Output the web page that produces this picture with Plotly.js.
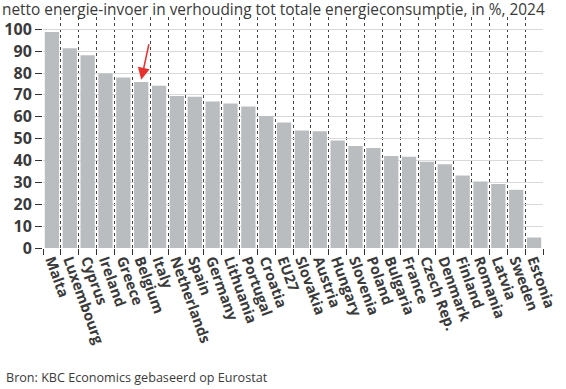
<!DOCTYPE html>
<html><head><meta charset="utf-8">
<script src="https://cdn.plot.ly/plotly-3.0.1.min.js"></script>
<style>body{margin:0;background:#fff}#c{width:566px;height:389px}</style>
</head><body><div id="c"></div>
<script>
const countries = ["Malta","Luxembourg","Cyprus","Ireland","Greece","Belgium","Italy","Netherlands","Spain","Germany","Lithuania","Portugal","Croatia","EU27","Slovakia","Austria","Hungary","Slovenia","Poland","Bulgaria","France","Czech Rep.","Denmark","Finland","Romania","Latvia","Sweden","Estonia"];
const importShare = [98.8,91.3,88.1,79.8,78.0,75.9,74.2,69.5,69.1,67.0,66.1,64.7,60.3,57.4,53.7,53.4,49.2,46.6,45.7,42.1,41.7,39.4,38.3,33.1,30.4,29.3,26.6,4.8];
const yTicks = [0,10,20,30,40,50,60,70,80,90,100];
const highlight = "Belgium";

const txt = '#3a3a3a';
const font = 'Open Sans, sans-serif';
Plotly.newPlot('c', [{
  type: 'bar', x: countries, y: importShare,
  marker: {color: '#babdbf'}, hoverinfo: 'skip'
}], {
  width: 566, height: 389,
  margin: {l: 43, r: 23, t: 17, b: 141},
  paper_bgcolor: '#fff', plot_bgcolor: '#fff',
  bargap: 0.2, showlegend: false,
  font: {family: font, color: txt},
  xaxis: {
    type: 'category', tickson: 'boundaries', tickangle: 70,
    tickmode: 'linear', tick0: 0, dtick: 1,
    ticks: 'outside', ticklen: 6, tickcolor: '#333', tickwidth: 1,
    showgrid: true, gridcolor: '#444', griddash: 'dot', gridwidth: 1,
    showline: false, zeroline: false,
    tickfont: {family: font, size: 14.6, color: txt, weight: 'bold'}
  },
  yaxis: {
    range: [0, 105.6], tickvals: yTicks, ticktext: yTicks.map(String),
    ticks: 'outside', ticklen: 7, tickcolor: '#333', tickwidth: 1,
    showgrid: true, gridcolor: '#d9d9d9', gridwidth: 1,
    zeroline: false, showline: false,
    tickfont: {family: font, size: 16, color: txt, weight: 'bold'}
  },
  annotations: [
    {xref: 'paper', yref: 'paper', x: 0, y: 1, xshift: -43, yshift: 20, xanchor: 'left', yanchor: 'top',
     text: 'netto energie-invoer in verhouding tot totale energieconsumptie, in %, 2024',
     showarrow: false, font: {family: font, size: 15.4, color: txt}},
    {xref: 'paper', yref: 'paper', x: 0, y: 0, xshift: -39, yshift: -140, xanchor: 'left', yanchor: 'bottom',
     text: 'Bron: KBC Economics gebaseerd op Eurostat',
     showarrow: false, font: {family: font, size: 12.6, color: txt}},
    {x: highlight, y: importShare[countries.indexOf(highlight)] + 1, xref: 'x', yref: 'y',
     ax: 8, ay: -37, text: '', showarrow: true, arrowhead: 2, arrowsize: 1.6, arrowwidth: 1.5, arrowcolor: '#e8312f'}
  ]
}, {staticPlot: true});
</script></body></html>
